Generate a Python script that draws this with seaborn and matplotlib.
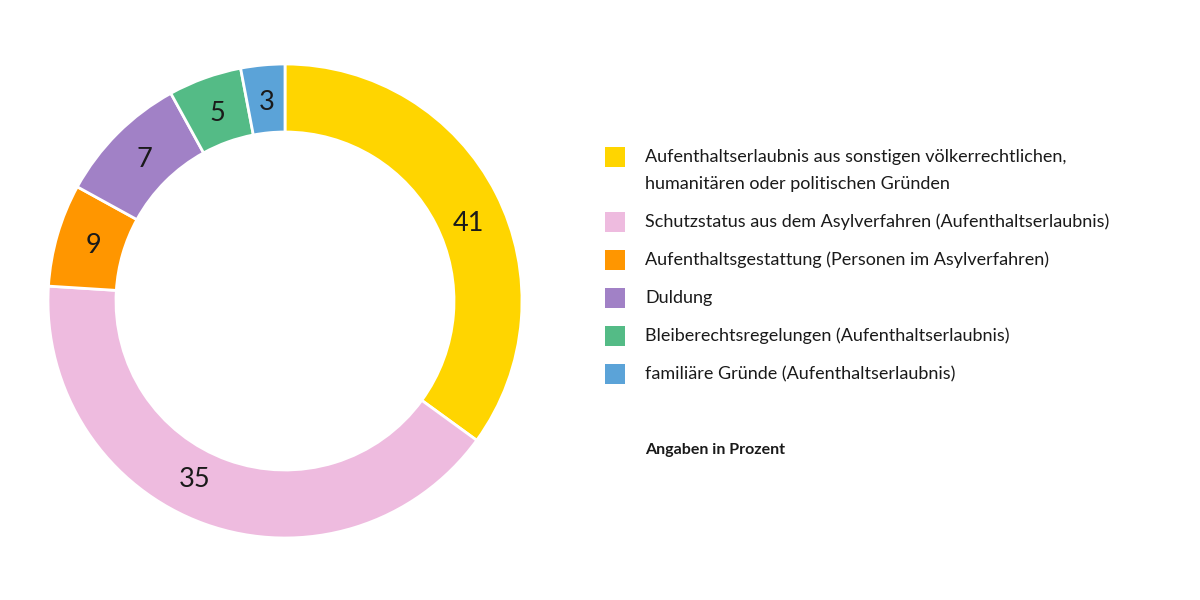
import matplotlib
matplotlib.use("Agg")
import matplotlib.pyplot as plt
from matplotlib.patches import Rectangle
import numpy as np
import seaborn as sns

# categories and values (wedge sizes as drawn in the reference, labels as printed)
categories = [
    "Aufenthaltserlaubnis aus sonstigen völkerrechtlichen,\nhumanitären oder politischen Gründen",
    "Schutzstatus aus dem Asylverfahren (Aufenthaltserlaubnis)",
    "Aufenthaltsgestattung (Personen im Asylverfahren)",
    "Duldung",
    "Bleiberechtsregelungen (Aufenthaltserlaubnis)",
    "familiäre Gründe (Aufenthaltserlaubnis)",
]
wedge_sizes = [35, 41, 7, 9, 5, 3]
value_labels = ["41", "35", "9", "7", "5", "3"]
colors = ["#ffd500", "#eebbdf", "#ff9600", "#a181c6", "#54bb86", "#5ba3d8"]
note = "Angaben in Prozent"

sns.set_theme(style="white")
plt.rcParams["font.family"] = ["Lato", "DejaVu Sans"]
text_color = "#1a1a1a"

fig = plt.figure(figsize=(12, 6), dpi=100)
fig.patch.set_facecolor("white")

# donut: centre (285, 301) px, outer radius 237 px
ax = fig.add_axes([48 / 1200, (600 - 538) / 600, 474 / 1200, 474 / 600])
ring = 68 / 237
wedges, _ = ax.pie(
    wedge_sizes,
    colors=colors,
    startangle=90,
    counterclock=False,
    radius=1,
    wedgeprops=dict(width=ring, edgecolor="white", linewidth=2),
)
ax.set_aspect("equal")
ax.set_xlim(-1, 1)
ax.set_ylim(-1, 1)

# small angular nudges so the numbers sit where the reference puts them
nudge = [-4, -7, 0, 0, 0, 0]
r_lab = 1 - ring / 2 - 0.015
for w, lab, d in zip(wedges, value_labels, nudge):
    ang = np.deg2rad((w.theta1 + w.theta2) / 2 + d)
    ax.text(r_lab * np.cos(ang), r_lab * np.sin(ang), lab,
            ha="center", va="center", fontsize=19.5, color=text_color)

# legend
y = 157
for cat, col in zip(categories, colors):
    fig.patches.append(Rectangle((605 / 1200, 1 - (y + 10) / 600), 20 / 1200, 20 / 600,
                                 transform=fig.transFigure, facecolor=col,
                                 edgecolor="none"))
    lines = cat.split("\n")
    for i, line in enumerate(lines):
        fig.text(645 / 1200, 1 - (y + i * 27) / 600, line, ha="left", va="center",
                 fontsize=13, color=text_color)
    y += 27 * (len(lines) - 1) + 38

fig.text(645 / 1200, 1 - 450 / 600, note, ha="left", va="center",
         fontsize=11.5, fontweight="bold", color=text_color)

fig.savefig("out.png", dpi=100, facecolor="white")
